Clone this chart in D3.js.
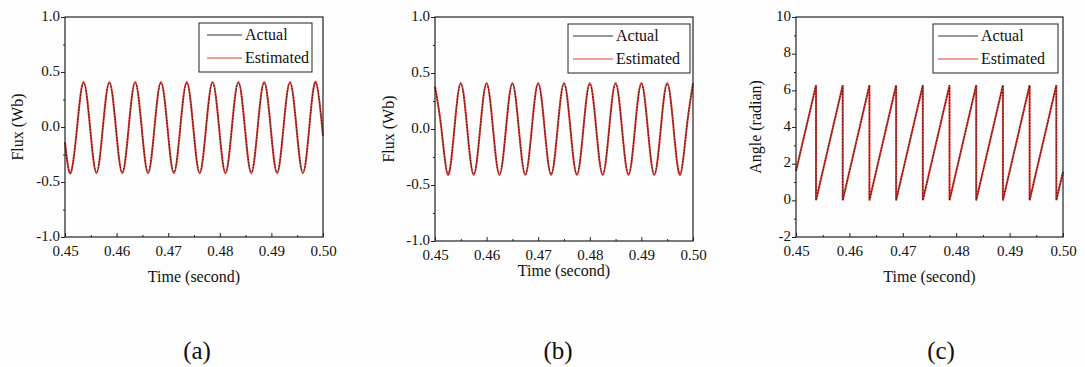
<!DOCTYPE html>
<html>
<head>
<meta charset="utf-8">
<script src="https://cdn.jsdelivr.net/npm/d3@7"></script>
<style>
  body { margin: 0; background: #fdfdfd; }
  svg text { font-family: "Liberation Serif", "Times New Roman", Times, serif !important; fill: #111; }
  .tick line { stroke: #222; }
</style>
</head>
<body>
<svg id="chart"></svg>
<script>
// Tick values shared by the panels
const xTicks = [0.45, 0.46, 0.47, 0.48, 0.49, 0.50];
const xMinor = [0.455, 0.465, 0.475, 0.485, 0.495];
const fluxTicks = [-1.0, -0.5, 0.0, 0.5, 1.0];
const fluxMinor = [-0.75, -0.25, 0.25, 0.75];
const angleTicks = [-2, 0, 2, 4, 6, 8, 10];
const angleMinor = [-1, 1, 3, 5, 7, 9];

// (a) flux, read at peaks / zero crossings / troughs
const timeA = [0.45, 0.4511, 0.45235, 0.4536, 0.45485, 0.4561, 0.45735, 0.4586, 0.45985,
  0.4611, 0.46235, 0.4636, 0.46485, 0.4661, 0.46735, 0.4686, 0.46985,
  0.4711, 0.47235, 0.4736, 0.47485, 0.4761, 0.47735, 0.4786, 0.47985,
  0.4811, 0.48235, 0.4836, 0.48485, 0.4861, 0.48735, 0.4886, 0.48985,
  0.4911, 0.49235, 0.4936, 0.49485, 0.4961, 0.49735, 0.4986, 0.50];
const actualA = [-0.14, -0.41, 0, 0.40, 0, -0.41, 0, 0.40, 0,
  -0.41, 0, 0.40, 0, -0.41, 0, 0.40, 0,
  -0.41, 0, 0.40, 0, -0.41, 0, 0.40, 0,
  -0.41, 0, 0.40, 0, -0.41, 0, 0.40, 0,
  -0.41, 0, 0.40, 0, -0.41, 0, 0.40, -0.08];
const estimatedA = [-0.14, -0.42, 0, 0.41, 0, -0.42, 0, 0.41, 0,
  -0.42, 0, 0.41, 0, -0.42, 0, 0.41, 0,
  -0.42, 0, 0.41, 0, -0.42, 0, 0.41, 0,
  -0.42, 0, 0.41, 0, -0.42, 0, 0.41, 0,
  -0.42, 0, 0.41, 0, -0.42, 0, 0.41, -0.08];

// (b) flux
const timeB = [0.45, 0.45125, 0.4525, 0.45375, 0.455, 0.45625, 0.4575, 0.45875, 0.46,
  0.46125, 0.4625, 0.46375, 0.465, 0.46625, 0.4675, 0.46875, 0.47,
  0.47125, 0.4725, 0.47375, 0.475, 0.47625, 0.4775, 0.47875, 0.48,
  0.48125, 0.4825, 0.48375, 0.485, 0.48625, 0.4875, 0.48875, 0.49,
  0.49125, 0.4925, 0.49375, 0.495, 0.49625, 0.4975, 0.49875, 0.50];
const actualB = [0.37, 0, -0.40, 0, 0.40, 0, -0.40, 0, 0.40,
  0, -0.40, 0, 0.40, 0, -0.40, 0, 0.40,
  0, -0.40, 0, 0.40, 0, -0.40, 0, 0.40,
  0, -0.40, 0, 0.40, 0, -0.40, 0, 0.40,
  0, -0.40, 0, 0.40, 0, -0.40, 0, 0.40];
const estimatedB = [0.38, 0, -0.41, 0, 0.41, 0, -0.41, 0, 0.41,
  0, -0.41, 0, 0.41, 0, -0.41, 0, 0.41,
  0, -0.41, 0, 0.41, 0, -0.41, 0, 0.41,
  0, -0.41, 0, 0.41, 0, -0.41, 0, 0.41,
  0, -0.41, 0, 0.41, 0, -0.41, 0, 0.41];

// (c) angle, sawtooth wrapping at 2*pi
const timeC = [0.45, 0.45375, 0.45375, 0.45875, 0.45875, 0.46375, 0.46375, 0.46875, 0.46875,
  0.47375, 0.47375, 0.47875, 0.47875, 0.48375, 0.48375, 0.48875, 0.48875,
  0.49375, 0.49375, 0.49875, 0.49875, 0.50];
const actualC = [1.6, 6.28, 0, 6.28, 0, 6.28, 0, 6.28, 0,
  6.28, 0, 6.28, 0, 6.28, 0, 6.28, 0,
  6.28, 0, 6.28, 0, 1.55];
const estimatedC = [1.6, 6.28, 0, 6.28, 0, 6.28, 0, 6.28, 0,
  6.28, 0, 6.28, 0, 6.28, 0, 6.28, 0,
  6.28, 0, 6.28, 0, 1.55];

const seriesNames = ["Actual", "Estimated"];
const captions = ["(a)", "(b)", "(c)"];

const svg = d3.select("#chart").attr("width", 1085).attr("height", 367);

// plain hyphen instead of d3's unicode minus
const f1 = d => d3.format(".1f")(d).replace("\u2212", "-");
const f0 = d => String(d);

const panels = [
  { left: 65, right: 323, top: 17, bottom: 237, time: timeA, actual: actualA, est: estimatedA,
    yDomain: [-1, 1], yTicks: fluxTicks, yMinor: fluxMinor, fmt: f1,
    yTitle: "Flux (Wb)", yTitleX: 17, xTitleY: 282, curve: d3.curveNatural,
    leg: { x: 199, y: 23, w: 113, h: 49, l1: 207, l2: 242 }, capX: 197 },
  { left: 435, right: 693, top: 17, bottom: 241, time: timeB, actual: actualB, est: estimatedB,
    yDomain: [-1, 1], yTicks: fluxTicks, yMinor: fluxMinor, fmt: f1,
    yTitle: "Flux (Wb)", yTitleX: 388, xTitleY: 276, curve: d3.curveNatural,
    leg: { x: 568, y: 24, w: 122, h: 49, l1: 573, l2: 613 }, capX: 558 },
  { left: 796, right: 1063, top: 17, bottom: 237, time: timeC, actual: actualC, est: estimatedC,
    yDomain: [-2, 10], yTicks: angleTicks, yMinor: angleMinor, fmt: f0,
    yTitle: "Angle (radian)", yTitleX: 755, xTitleY: 282, curve: d3.curveLinear,
    leg: { x: 933, y: 24, w: 125, h: 49, l1: 938, l2: 978 }, capX: 941 }
];

panels.forEach(function(p, i) {
  const x = d3.scaleLinear().domain([0.45, 0.50]).range([p.left, p.right]);
  const y = d3.scaleLinear().domain(p.yDomain).range([p.bottom, p.top]);
  const g = svg.append("g");

  // minor ticks
  g.append("g").attr("transform", "translate(" + p.left + ",0)")
    .call(d3.axisLeft(y).tickValues(p.yMinor).tickSize(2).tickFormat(""))
    .call(a => a.select(".domain").remove());
  g.append("g").attr("transform", "translate(0," + p.bottom + ")")
    .call(d3.axisBottom(x).tickValues(xMinor).tickSize(-2).tickFormat(""))
    .call(a => a.select(".domain").remove());

  // major ticks and labels
  g.append("g").attr("transform", "translate(" + p.left + ",0)")
    .call(d3.axisLeft(y).tickValues(p.yTicks).tickSize(4).tickPadding(1).tickFormat(p.fmt))
    .call(a => a.select(".domain").remove())
    .selectAll("text").attr("font-size", 15).attr("dy", "0.22em");
  g.append("g").attr("transform", "translate(0," + p.bottom + ")")
    .call(d3.axisBottom(x).tickValues(xTicks).tickSize(-4).tickPadding(8).tickFormat(d3.format(".2f")))
    .call(a => a.select(".domain").remove())
    .selectAll("text").attr("font-size", 15);

  // lines
  const line = (vals) => d3.line()
    .x((d, j) => x(p.time[j]))
    .y(d => y(d))
    .curve(p.curve)(vals);

  g.append("path").attr("d", line(p.est))
    .attr("fill", "none").attr("stroke", "#e23a32").attr("stroke-width", 2);
  g.append("path").attr("d", line(p.actual))
    .attr("fill", "none").attr("stroke", "#1e1e1e").attr("stroke-width", 1)
    .attr("stroke-dasharray", "1.5,1.5");

  // frame
  g.append("rect")
    .attr("x", p.left).attr("y", p.top)
    .attr("width", p.right - p.left).attr("height", p.bottom - p.top)
    .attr("fill", "none").attr("stroke", "#222").attr("stroke-width", 1.2);

  // legend
  const L = p.leg;
  g.append("rect").attr("x", L.x).attr("y", L.y).attr("width", L.w).attr("height", L.h)
    .attr("fill", "#fff").attr("stroke", "#222").attr("stroke-width", 1);
  seriesNames.forEach(function(name, k) {
    const yy = L.y + 12 + k * 23;
    g.append("line").attr("x1", L.l1).attr("x2", L.l2).attr("y1", yy).attr("y2", yy)
      .attr("stroke", k === 0 ? "#333" : "#e23a32").attr("stroke-width", 1.2);
    g.append("text").attr("x", L.l2 + 3).attr("y", yy + 5)
      .attr("font-size", 16).text(name);
  });

  // axis titles
  g.append("text")
    .attr("x", (p.left + p.right) / 2).attr("y", p.xTitleY)
    .attr("text-anchor", "middle").attr("font-size", 16)
    .text("Time (second)");
  g.append("text")
    .attr("transform", "translate(" + p.yTitleX + "," + ((p.top + p.bottom) / 2) + ") rotate(-90)")
    .attr("text-anchor", "middle").attr("dy", "0.35em").attr("font-size", 16)
    .text(p.yTitle);

  // caption
  svg.append("text").attr("x", p.capX).attr("y", 359)
    .attr("text-anchor", "middle").attr("font-size", 25)
    .text(captions[i]);
});
</script>
</body>
</html>
